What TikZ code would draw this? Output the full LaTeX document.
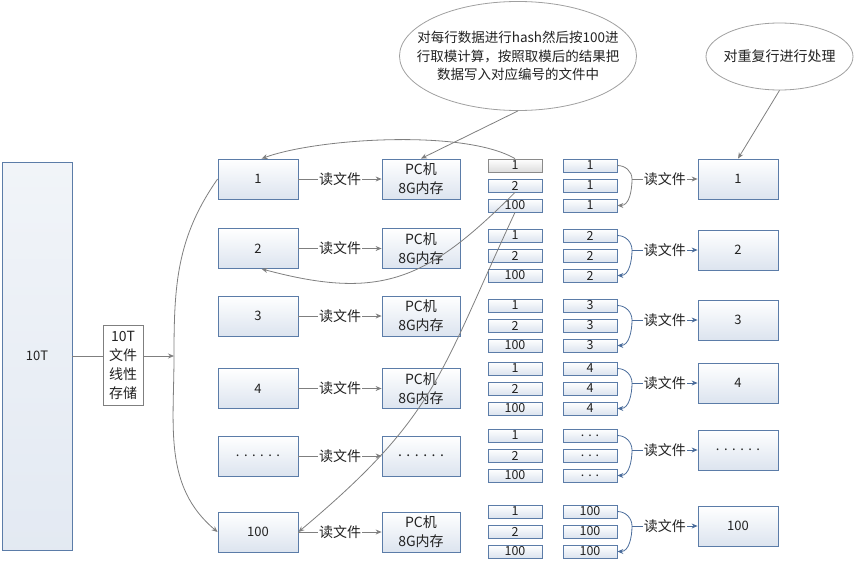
\documentclass[tikz,border=0pt]{standalone}
\usepackage{fontspec}
\setmainfont{Noto Sans CJK SC}
\usetikzlibrary{arrows.meta,shapes.geometric}
\definecolor{boxline}{HTML}{5B7CA8}
\definecolor{boxfill}{HTML}{DCE4EF}
\definecolor{linegray}{HTML}{7F7F7F}
\definecolor{lineblue}{HTML}{4A6C9B}
\definecolor{cellgray}{HTML}{8A8A8A}
\definecolor{cellfill}{HTML}{DDDDDD}
\definecolor{notegray}{HTML}{A0A0A0}
\definecolor{ink}{HTML}{222222}
\newcommand{\sixdots}{.\hskip4.5pt.\hskip4.5pt.\hskip4.5pt.\hskip4.5pt.\hskip4.5pt.}
\newcommand{\threedots}{.\hskip4pt.\hskip4pt.}

\begin{document}
\begin{tikzpicture}[x=1pt,y=-1pt,>={Stealth[length=6pt,width=5pt]},line width=0.8pt,
      font=\fontsize{13}{15}\selectfont,text=ink,
      box/.style={draw=boxline,top color=white,bottom color=boxfill,minimum width=80pt,minimum height=40pt,align=center,inner sep=0pt},
      bigbox/.style={box,top color=white!60!boxfill,bottom color=boxfill!80},
      cell/.style={draw=boxline,top color=white,bottom color=boxfill,minimum width=54pt,minimum height=13pt,inner sep=0pt,font=\fontsize{12.5}{12.5}\selectfont},
      hlcell/.style={cell,draw=cellgray,bottom color=cellfill},
      cjk/.style={font=\fontsize{14}{19}\selectfont},
      lbl/.style={fill=white,inner sep=1pt,cjk,text=ink},
      note/.style={ellipse,draw=notegray,fill=white,inner sep=0pt},
      link/.style={draw=linegray,->}]
  \useasboundingbox (0,0) rectangle (857,562);

  % source and split
  \node[bigbox,minimum width=70pt,minimum height=388pt] (tenT) at (37,356) {10T};
  \node[draw=linegray,fill=white,minimum width=40pt,minimum height=80pt,inner sep=0pt,align=center,cjk] (store) at (123,365) {10T\\文件\\线性\\存储};
  \coordinate (hub) at (174,356);
  \draw[linegray] (tenT.east) -- (tenT.east -| store.west);
  \draw[link] (store.east |- hub) -- (hub);

  % rows
  \foreach \i/\ys/\yg/\yd/\sname/\pname/\cname/\dname in {
      1/179/159/179/1/{PC机\\8G内存}/1/1,
      2/248.5/229/250/2/{PC机\\8G内存}/2/2,
      3/316/299/320/3/{PC机\\8G内存}/3/3,
      4/388.5/362/383/4/{PC机\\8G内存}/4/4,
      5/456/429/450/\sixdots/\sixdots/\threedots/\sixdots,
      6/532/505/526/100/{PC机\\8G内存}/100/100}
  {
    \ifnum\i=1 \def\lc{linegray}\else\def\lc{lineblue}\fi
    \node[box] (s\i) at (258,\ys) {\sname};
    \node[box,cjk,minimum width=78pt] (p\i) at (421,\ys) {\pname};
    \draw[link] (s\i) -- node[lbl] {读文件} (p\i);
    \foreach \r/\lab in {1/1,2/2,3/100}{
      \ifnum\i\r=11
        \node[hlcell] (a\i-\r) at (515,\yg+6.5+20*\r-20) {\lab};
      \else
        \node[cell] (a\i-\r) at (515,\yg+6.5+20*\r-20) {\lab};
      \fi
      \node[cell] (b\i-\r) at (590,\yg+6.5+20*\r-20) {\cname};
    }
    \coordinate (m\i) at (632,\yd);
    \node[box] (d\i) at (738,\yd) {\dname};
    \draw[->,draw=\lc] (b\i-1.east) to[out=0,in=90] (m\i) to[out=-90,in=0] (b\i-3.east);
    \draw[->,draw=\lc] (m\i) -- node[lbl] {读文件} (d\i);
  }

  % spread of files over the hosts
  \draw[linegray] (hub) to[out=90,in=235] (s1.west);
  \draw[link] (hub) to[out=-90,in=140] (s6.west);
  \draw[link] (a1-1.north) to[out=150,in=20,looseness=0.6] (s1.80);
  \draw[link] (a1-2.south) to[out=225,in=-15,looseness=1.2] (s2.-80);
  \draw[link] (a1-3.south) to[out=245,in=40,looseness=1.2] (s6.east);

  % notes
  \node[note,minimum width=237pt,minimum height=109pt] (ell1) at (518,56) {};
  \node[align=center,font=\fontsize{13.5}{18.5}\selectfont] (ell1t) at (ell1.center) {对每行数据进行hash然后按100进\\行取模计算，按照取模后的结果把\\数据写入对应编号的文件中};
  \node[note,minimum width=147pt,minimum height=67pt] (ell2) at (779.5,56.5) {};
  \node[cjk] (ell2t) at (ell2.center) {对重复行进行处理};
  \draw[link] (ell1.south) -- (p1.north);
  \draw[link] (ell2.south) -- (d1.north);
\end{tikzpicture}
\end{document}
